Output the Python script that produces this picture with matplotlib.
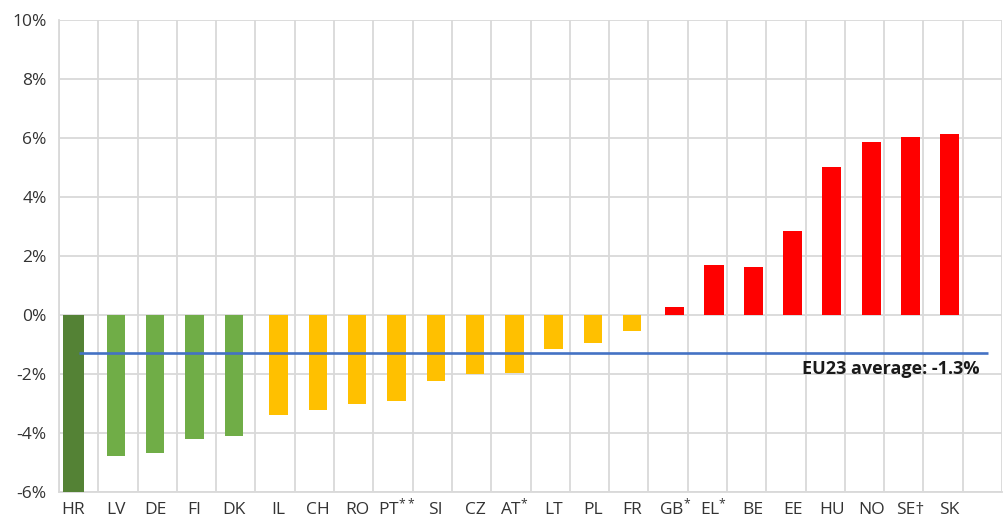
import matplotlib
matplotlib.use("Agg")
import matplotlib.pyplot as plt
from matplotlib.ticker import FixedLocator

plt.rcParams['font.family'] = ['Open Sans', 'DejaVu Sans']
plt.rcParams['mathtext.fontset'] = 'custom'
plt.rcParams['mathtext.rm'] = 'Open Sans'
plt.rcParams['mathtext.it'] = 'Open Sans'

# ---- data ----
countries = ["HR", "LV", "DE", "FI", "DK", "IL", "CH", "RO", r"PT$^{**}$", "SI", "CZ",
             r"AT$^{*}$", "LT", "PL", "FR", r"GB$^{*}$", r"EL$^{*}$", "BE", "EE", "HU",
             "NO", "SE†", "SK"]
values = [-6.0, -4.78, -4.68, -4.20, -4.10, -3.40, -3.24, -3.03, -2.93, -2.24, -2.02,
          -1.97, -1.17, -0.96, -0.53, 0.26, 1.69, 1.64, 2.86, 5.03, 5.87, 6.04, 6.14]
groups = ["dark"] + ["green"] * 4 + ["yellow"] * 10 + ["red"] * 8
eu_average = -1.3
avg_label = "EU23 average: -1.3%"
y_ticks = [-6, -4, -2, 0, 2, 4, 6, 8, 10]

# ---- styles ----
colors = {"dark": "#548235", "green": "#70AD47", "yellow": "#FFC000", "red": "#FF0000"}
offsets = {"dark": -0.13, "green": -0.05, "yellow": 0.09, "red": 0.17}
widths = {"dark": 0.53, "green": 0.47, "yellow": 0.47, "red": 0.49}
n_slots = len(countries) + 1

W, H = 1005, 517
fig = plt.figure(figsize=(W / 100, H / 100), dpi=100)
ax = fig.add_axes([59 / W, (H - 491.7) / H, (1002 - 59) / W, (491.7 - 20.3) / H])

xs = []
for i, (v, g) in enumerate(zip(values, groups)):
    x = i + offsets[g]
    xs.append(x)
    ax.bar(x, v, width=widths[g], color=colors[g], zorder=3)

ax.plot([0, n_slots - 1 + 0.15], [eu_average, eu_average], color="#4472C4", lw=1.9,
        zorder=4, solid_capstyle="butt")
ax.text(20.67, -1.85, avg_label, ha="center", va="center", fontsize=13,
        fontweight="bold", color="#1a1a1a", zorder=5)

ax.set_xlim(-0.5, n_slots - 0.5)
ax.set_ylim(-6, 10)
ax.set_yticks(y_ticks)
ax.set_yticklabels([f"{t}%" for t in y_ticks])
ax.set_xticks(xs)
ax.set_xticklabels(countries)
ax.xaxis.set_minor_locator(FixedLocator([i - 0.5 for i in range(n_slots + 1)]))
ax.grid(axis="y", which="major", color="#D9D9D9", lw=1.3, zorder=0)
ax.grid(axis="x", which="minor", color="#D9D9D9", lw=1.3, zorder=0)
ax.tick_params(axis="both", which="both", length=0, labelsize=12.5, colors="#333333")
ax.tick_params(axis="x", pad=16)
ax.tick_params(axis="y", pad=9)
for lbl in ax.get_xticklabels():
    lbl.set_verticalalignment("baseline")
for s in ["top", "right"]:
    ax.spines[s].set_visible(False)
for s in ["left", "bottom"]:
    ax.spines[s].set_color("#D9D9D9")
    ax.spines[s].set_linewidth(1.3)

fig.savefig("out.png", dpi=100)
